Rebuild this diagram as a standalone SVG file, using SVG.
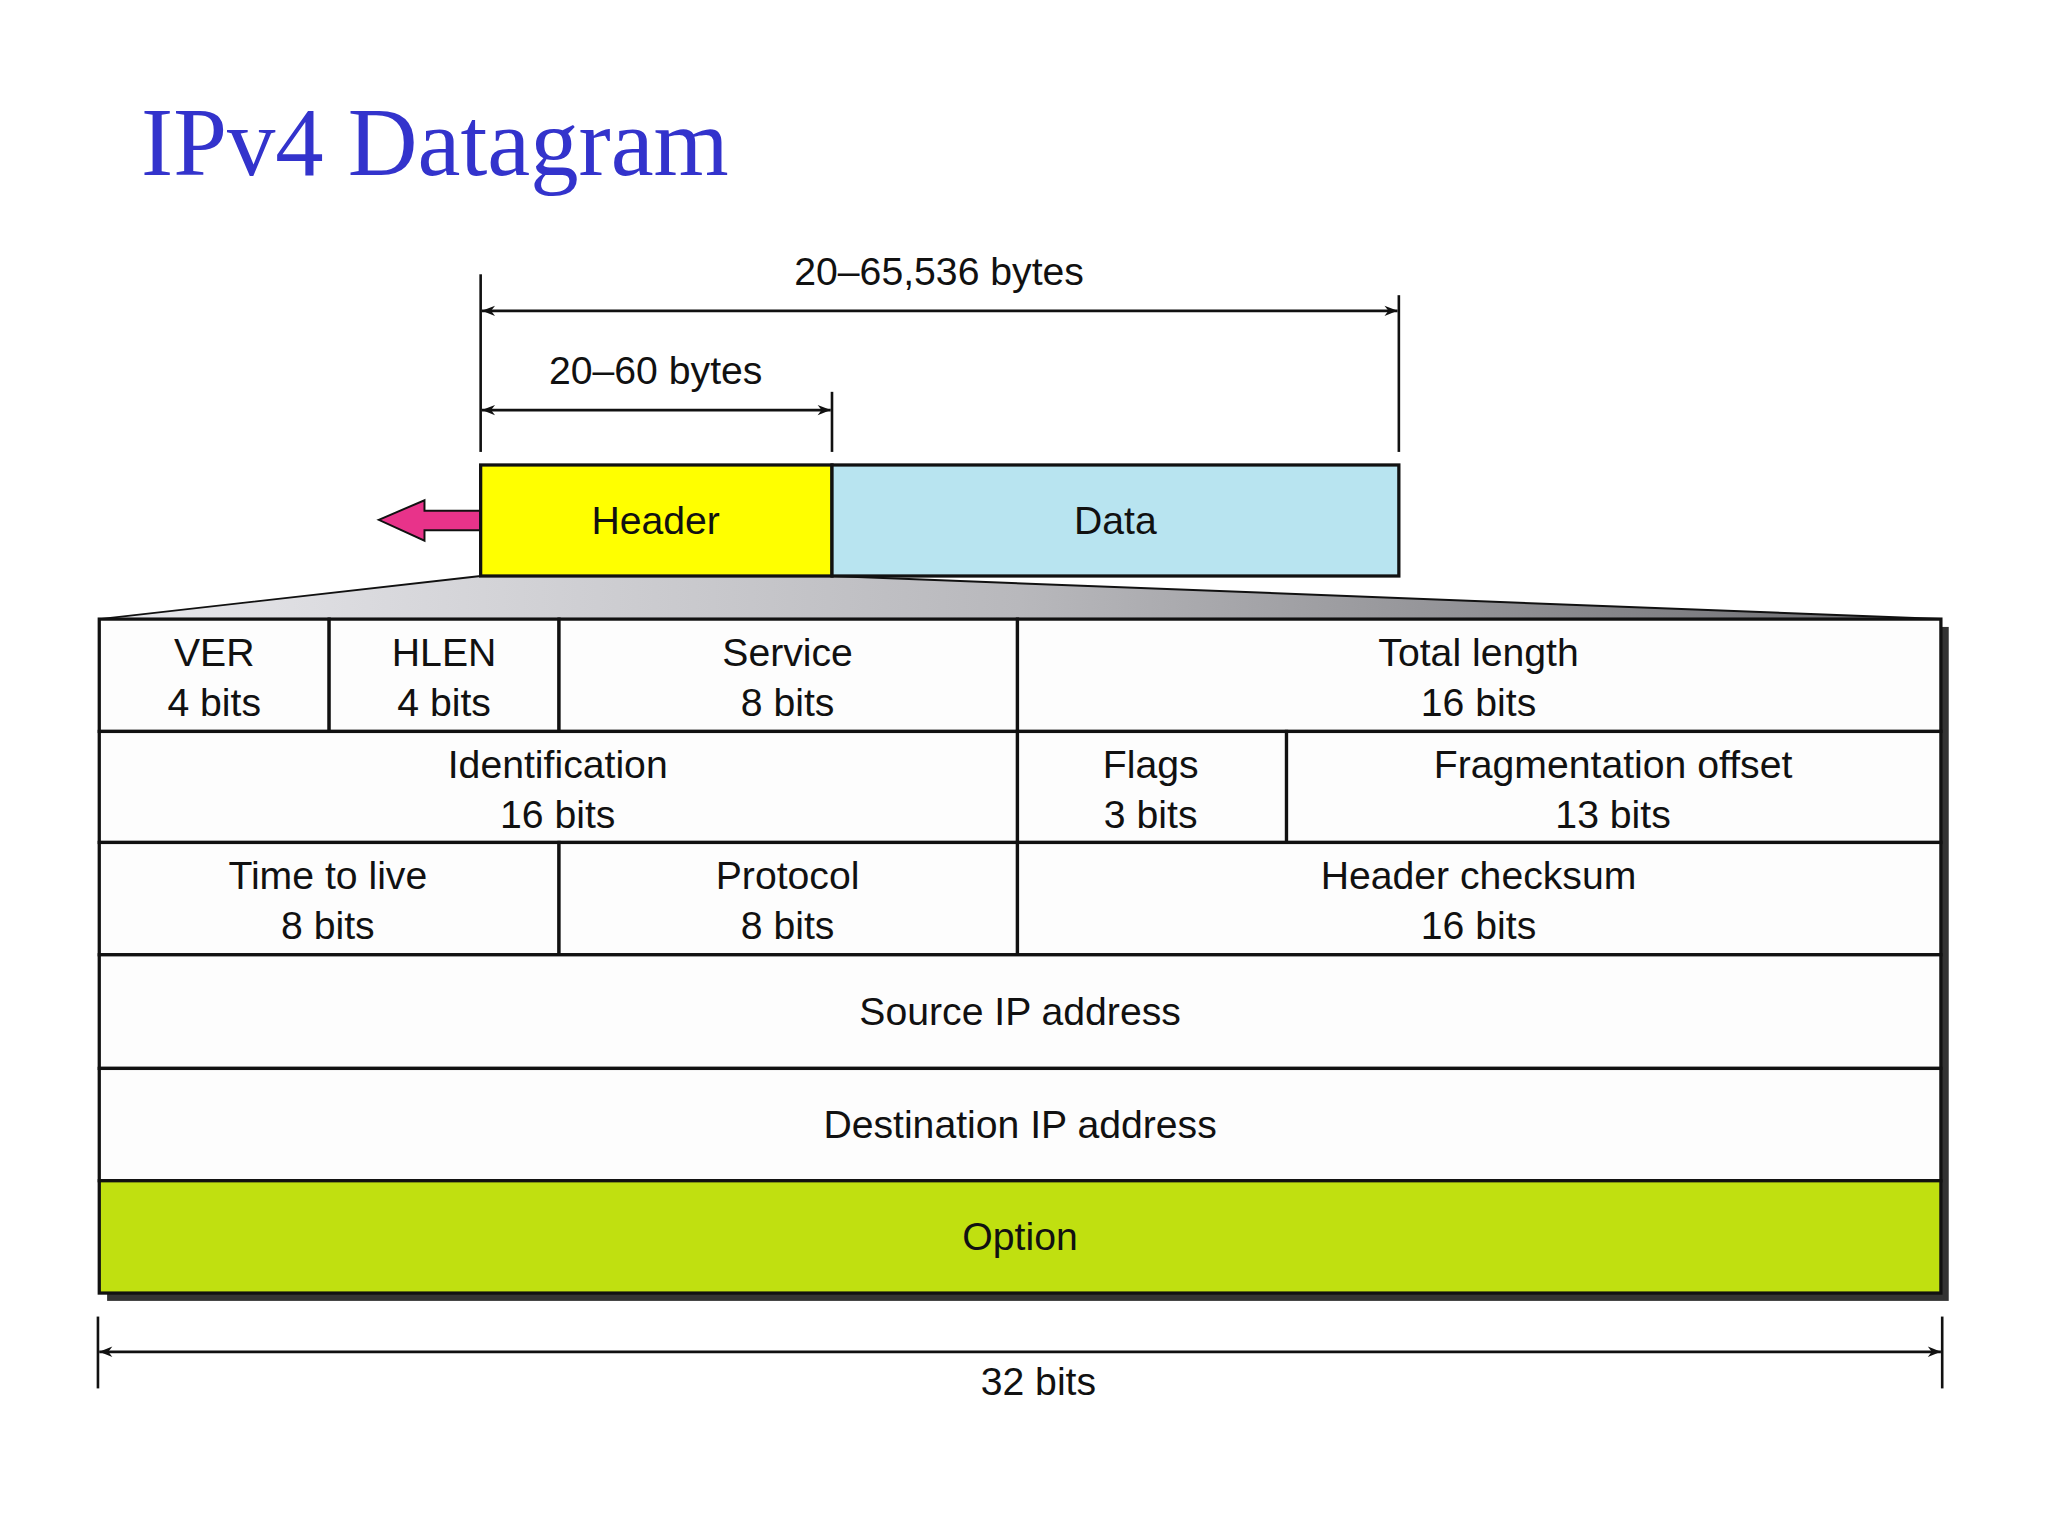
<svg xmlns="http://www.w3.org/2000/svg" width="2048" height="1536" viewBox="0 0 2048 1536">
<defs>
<style>
.t{font-family:"Liberation Sans",Arial,sans-serif;font-size:30px;fill:#111;text-anchor:middle}
.c{fill:#fdfdfd;stroke:#111;stroke-width:2.5}
.l{stroke:#111;stroke-width:2;fill:none}
</style>
<marker id="ah" viewBox="0 0 10 10" refX="10" refY="5" markerWidth="14" markerHeight="10" markerUnits="userSpaceOnUse" orient="auto-start-reverse"><path d="M0,1 L10,5 L0,9 L3,5 Z" fill="#111"/></marker>
<linearGradient id="g" x1="0" y1="0" x2="1" y2="0"><stop offset="0" stop-color="#e8e8ec"/><stop offset="0.5" stop-color="#b8b8bc"/><stop offset="1" stop-color="#6a6a6e"/></linearGradient>
</defs>
<rect width="2048" height="1536" fill="#fff"/>
<g transform="scale(1.30612)">
<text x="108" y="134" font-family="Liberation Serif,serif" font-size="74" fill="#3333cc">IPv4 Datagram</text>
<g id="connectors">
<line class="l" x1="368" y1="210" x2="368" y2="346"/>
<line class="l" x1="1071" y1="226" x2="1071" y2="346"/>
<line class="l" x1="637" y1="300" x2="637" y2="346"/>
<line class="l" x1="369" y1="238" x2="1070" y2="238" marker-start="url(#ah)" marker-end="url(#ah)"/>
<line class="l" x1="369" y1="314" x2="636" y2="314" marker-start="url(#ah)" marker-end="url(#ah)"/>
<line class="l" x1="75" y1="1008" x2="75" y2="1063"/>
<line class="l" x1="1487" y1="1008" x2="1487" y2="1063"/>
<line class="l" x1="76" y1="1035" x2="1486" y2="1035" marker-start="url(#ah)" marker-end="url(#ah)"/>
<path d="M290,398 L325,383 L325,391 L368,391 L368,406 L325,406 L325,414 Z" fill="#e8338a" stroke="#111" stroke-width="1.5"/>
<path d="M368,441 L637,441 L1486,474 L76,474 Z" fill="url(#g)" stroke="#111" stroke-width="1.5"/>
</g>
<text class="t" x="719" y="218">20–65,536 bytes</text>
<text class="t" x="502" y="294">20–60 bytes</text>
<text class="t" x="795" y="1068">32 bits</text>
<g id="header"><rect x="368" y="356" width="269" height="85" fill="#ffff00" stroke="#111" stroke-width="2.5"/><text class="t" x="502" y="409">Header</text></g>
<g id="data"><rect x="637" y="356" width="434" height="85" fill="#b8e4f0" stroke="#111" stroke-width="2.5"/><text class="t" x="854" y="409">Data</text></g>
<rect x="82" y="480" width="1410" height="516" fill="#333"/>
<g id="ver"><rect class="c" x="76" y="474" width="176" height="86"/><text class="t" x="164" y="510">VER</text><text class="t" x="164" y="548">4 bits</text></g>
<g id="hlen"><rect class="c" x="252" y="474" width="176" height="86"/><text class="t" x="340" y="510">HLEN</text><text class="t" x="340" y="548">4 bits</text></g>
<g id="service"><rect class="c" x="428" y="474" width="351" height="86"/><text class="t" x="603" y="510">Service</text><text class="t" x="603" y="548">8 bits</text></g>
<g id="total"><rect class="c" x="779" y="474" width="707" height="86"/><text class="t" x="1132" y="510">Total length</text><text class="t" x="1132" y="548">16 bits</text></g>
<g id="ident"><rect class="c" x="76" y="560" width="703" height="85"/><text class="t" x="427" y="596">Identification</text><text class="t" x="427" y="634">16 bits</text></g>
<g id="flags"><rect class="c" x="779" y="560" width="206" height="85"/><text class="t" x="881" y="596">Flags</text><text class="t" x="881" y="634">3 bits</text></g>
<g id="frag"><rect class="c" x="985" y="560" width="501" height="85"/><text class="t" x="1235" y="596">Fragmentation offset</text><text class="t" x="1235" y="634">13 bits</text></g>
<g id="ttl"><rect class="c" x="76" y="645" width="352" height="86"/><text class="t" x="251" y="681">Time to live</text><text class="t" x="251" y="719">8 bits</text></g>
<g id="proto"><rect class="c" x="428" y="645" width="351" height="86"/><text class="t" x="603" y="681">Protocol</text><text class="t" x="603" y="719">8 bits</text></g>
<g id="cksum"><rect class="c" x="779" y="645" width="707" height="86"/><text class="t" x="1132" y="681">Header checksum</text><text class="t" x="1132" y="719">16 bits</text></g>
<g id="src"><rect class="c" x="76" y="731" width="1410" height="87"/><text class="t" x="781" y="785">Source IP address</text></g>
<g id="dst"><rect class="c" x="76" y="818" width="1410" height="86"/><text class="t" x="781" y="871">Destination IP address</text></g>
<g id="option"><rect x="76" y="904" width="1410" height="86" fill="#c0e010" stroke="#111" stroke-width="2.5"/><text class="t" x="781" y="957">Option</text></g>
</g>
</svg>
